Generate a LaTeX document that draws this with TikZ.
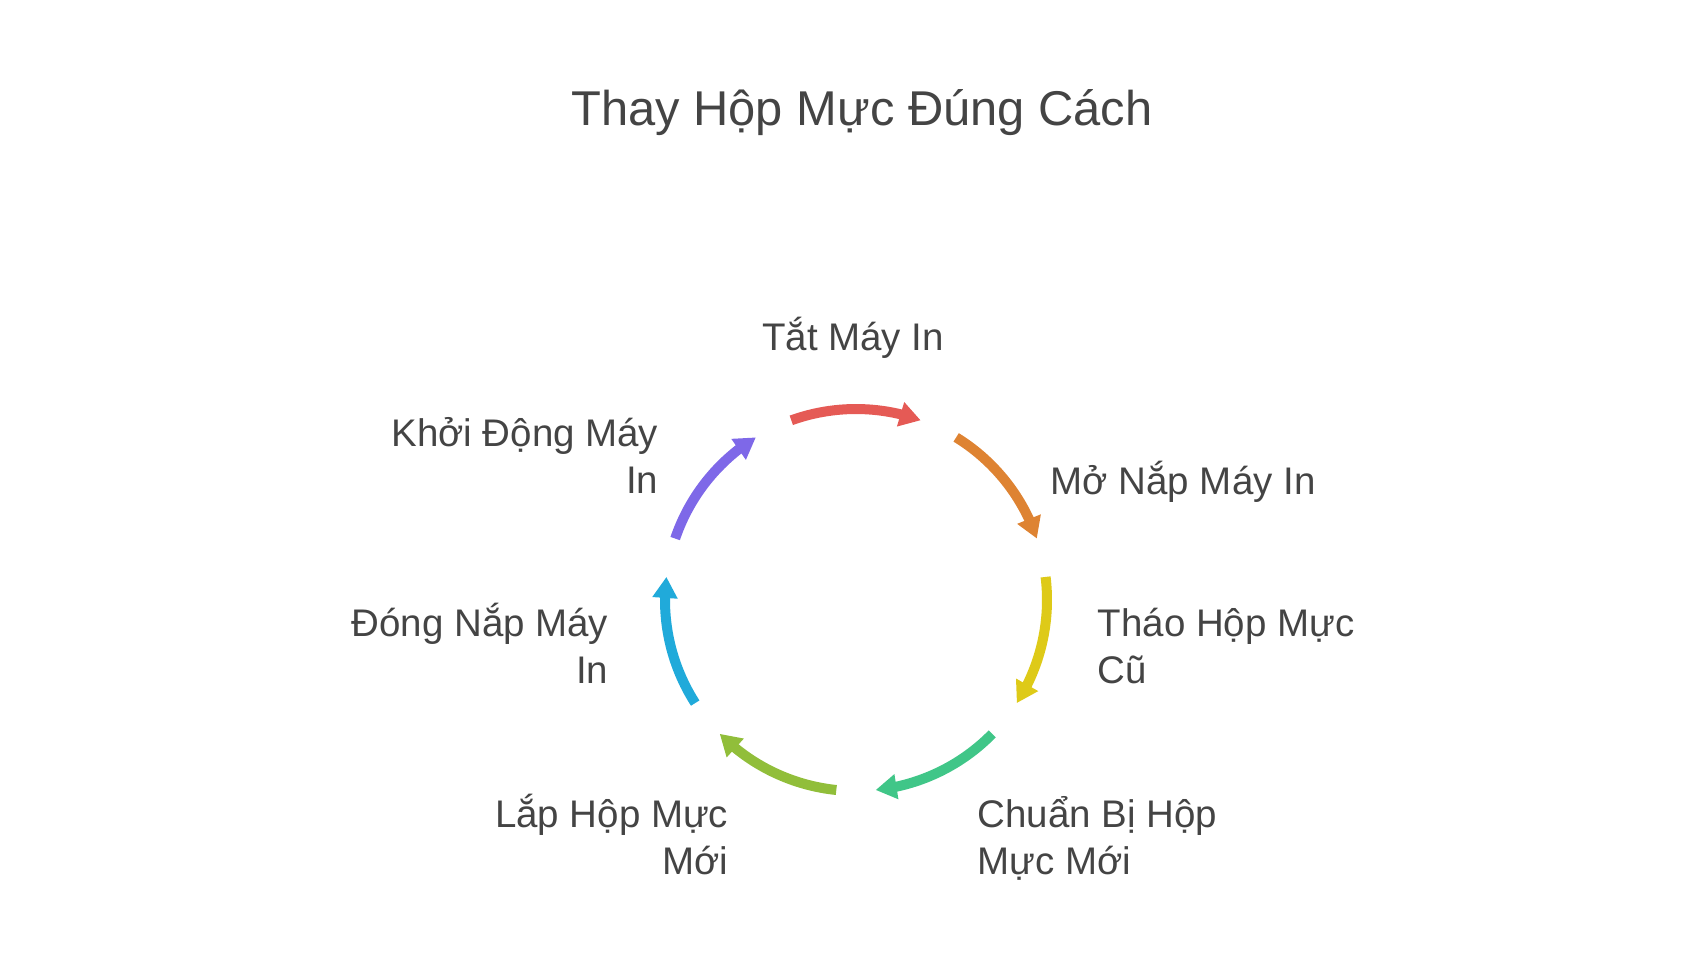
\documentclass[tikz,border=0pt]{standalone}
\usepackage{fontspec}
\setmainfont{Liberation Sans}
\usetikzlibrary{arrows.meta,bending}
\definecolor{textgray}{HTML}{444444}
\definecolor{cred}{HTML}{E55A55}
\definecolor{corange}{HTML}{DE8332}
\definecolor{cyellow}{HTML}{DECA18}
\definecolor{cgreen}{HTML}{40C688}
\definecolor{colive}{HTML}{91BE3A}
\definecolor{cblue}{HTML}{20AADA}
\definecolor{cpurple}{HTML}{7E68E8}
\begin{document}
\begin{tikzpicture}
	[steplabel/.style={inner sep=0pt,text=textgray,font=\fontsize{10.95}{13.5}\selectfont},
	 titlelabel/.style={inner sep=0pt,text=textgray,font=\fontsize{13.9}{16}\selectfont},
	 cyclearrow/.style={line width=0.1cm,-{Triangle[length=0.21cm,width=0.24cm]}}]
	\useasboundingbox (-8.56,-3.6) rectangle (8.51,6.0);
	\node[titlelabel,name=title,anchor=base]at(0.06,4.75){Thay Hộp Mực Đúng Cách};
	\node[steplabel,name=tat,anchor=base]at(-0.03,2.50){Tắt Máy In};
	\node[steplabel,name=mo,anchor=base west]at(1.94,1.06){Mở Nắp Máy In};
	\node[steplabel,name=thao,anchor=base west,align=left]at(2.41,-0.835){Tháo Hộp Mực\\Cũ};
	\node[steplabel,name=chuan,anchor=base west,align=left]at(1.21,-2.745){Chuẩn Bị Hộp\\Mực Mới};
	\node[steplabel,name=lap,anchor=base east,align=right]at(-1.27,-2.745){Lắp Hộp Mực\\Mới};
	\node[steplabel,name=dong,anchor=base east,align=right]at(-2.47,-0.835){Đóng Nắp Máy\\In};
	\node[steplabel,name=khoi,anchor=base east,align=right]at(-1.97,1.065){Khởi Động Máy\\In};
	\foreach \col [count=\i from 0] in {cred,corange,cyellow,cgreen,colive,cblue,cpurple}{
		\pgfmathsetmacro\mid{90-51.4286*\i}
		\draw[cyclearrow,\col](\mid+19.8:1.91) arc[start angle=\mid+19.8,end angle=\mid-19.8,radius=1.91];
	}
\end{tikzpicture}
\end{document}
